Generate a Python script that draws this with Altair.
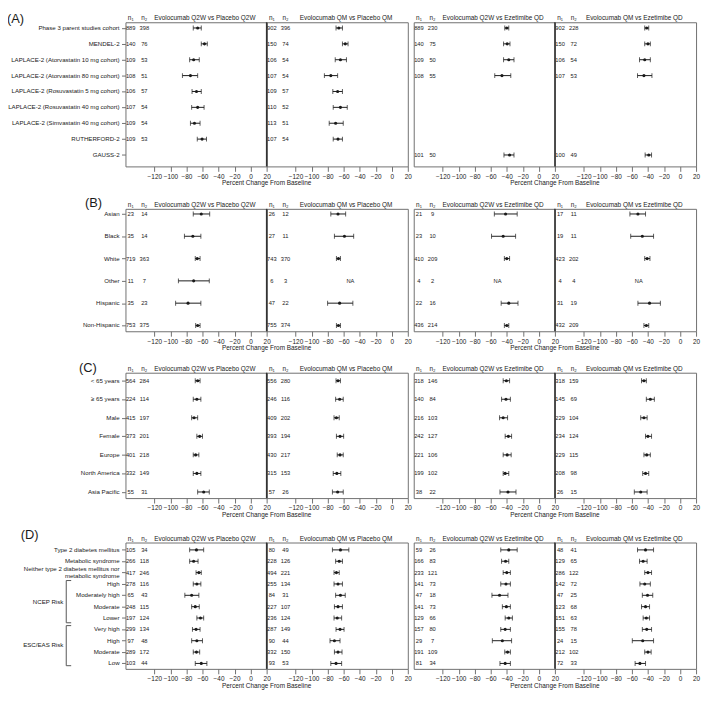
import altair as alt
import pandas as pd

# ------------------------------------------------------------------ data
HEADERS = ["Evolocumab Q2W vs Placebo Q2W", "Evolocumab QM vs Placebo QM",
           "Evolocumab Q2W vs Ezetimibe QD", "Evolocumab QM vs Ezetimibe QD"]
X_TICKS = [-120, -100, -80, -60, -40, -20, 0, 20]
AXIS_TITLE = "Percent Change From Baseline"

# rows: (n1, n2, mean % change, lower CI, upper CI); None = no data; est None = "NA"
A_LABELS = ["Phase 3 parent studies cohort", "MENDEL-2",
            "LAPLACE-2 (Atorvastatin 10 mg cohort)", "LAPLACE-2 (Atorvastatin 80 mg cohort)",
            "LAPLACE-2 (Rosuvastatin 5 mg cohort)", "LAPLACE-2 (Rosuvastatin 40 mg cohort)",
            "LAPLACE-2 (Simvastatin 40 mg cohort)", "RUTHERFORD-2", "GAUSS-2"]
A1 = [(889, 398, -66, -71.5, -61.5), (140, 76, -57.5, -61.5, -54), (109, 53, -71, -76, -64),
      (108, 51, -75, -85, -66), (106, 57, -67.5, -73, -61.5), (107, 54, -66, -73.5, -58),
      (109, 54, -70, -75, -63), (109, 53, -60.5, -66.5, -55), None]
A2 = [(902, 396, -66, -69.5, -61.5), (150, 74, -58, -61.5, -54.5), (106, 54, -64, -70.5, -56.5),
      (107, 54, -76, -84, -67.5), (109, 57, -67.5, -73.5, -61.5), (110, 52, -64, -73, -55.5),
      (113, 51, -70, -78, -60.5), (107, 54, -67, -73, -61.5), None]
A3 = [(889, 230, -40, -42.5, -37.5), (140, 75, -39.5, -44, -36), (109, 50, -37.5, -44, -31),
      (108, 55, -46, -55, -35), None, None, None, None, (101, 50, -36.5, -43.5, -31)]
A4 = [(902, 228, -41.5, -44, -39), (150, 72, -40, -44, -37), (106, 54, -44, -50.5, -37),
      (107, 53, -45, -53, -35), None, None, None, None, (100, 49, -39, -43.5, -35.5)]

B_LABELS = ["Asian", "Black", "White", "Other", "Hispanic", "Non-Hispanic"]
B1 = [(23, 14, -61.5, -71.5, -51), (35, 14, -72, -82.5, -62), (719, 363, -66.5, -69, -63),
      (11, 7, -71, -90, -51.5), (35, 23, -78, -93.5, -62), (753, 375, -66, -68.5, -63)]
B2 = [(26, 12, -67, -76, -57.5), (27, 11, -59, -71.5, -47.5), (743, 370, -66.5, -69, -64),
      (6, 3, None, None, None), (47, 22, -65, -80, -48.5), (755, 374, -66.5, -69, -64)]
B3 = [(21, 9, -41.5, -55.5, -27), (23, 10, -44.5, -59, -29), (410, 209, -40, -43, -36.5),
      (4, 2, None, None, None), (22, 16, -37.5, -47, -26), (436, 214, -40, -43, -37.5)]
B4 = [(17, 11, -52.5, -62.5, -43), (19, 11, -47, -61.5, -33), (423, 202, -41, -44, -37.5),
      (4, 4, None, None, None), (31, 19, -38, -52.5, -24.5), (432, 209, -42, -45, -39)]

C_LABELS = ["< 65 years", "\u2265 65 years", "Male", "Female", "Europe", "North America", "Asia Pacific"]
C1 = [(564, 284, -66, -69, -63), (224, 114, -67, -71.5, -62), (415, 197, -70.5, -73.5, -66),
      (373, 201, -63.5, -67, -60), (401, 218, -68.5, -71.5, -64.5), (332, 149, -67, -71.5, -62),
      (55, 31, -58.5, -66, -51.5)]
C2 = [(556, 280, -67, -69.5, -64), (246, 116, -65, -70, -60.5), (409, 202, -69, -72, -65.5),
      (393, 194, -64.5, -69, -60), (430, 217, -64.5, -68, -60.5), (315, 153, -68.5, -73, -63.5),
      (57, 26, -67.5, -74, -60.5)]
C3 = [(318, 146, -40.5, -44.5, -36.5), (140, 84, -41, -46.5, -35.5), (216, 103, -44.5, -49, -39),
      (242, 127, -38, -42, -34), (221, 106, -39.5, -44.5, -34.5), (199, 102, -42, -44.5, -37.5),
      (38, 22, -38.5, -48.5, -28.5)]
C4 = [(318, 159, -45, -48, -42), (145, 69, -37, -42, -32), (229, 104, -45, -49, -41),
      (234, 124, -40, -43, -35.5), (229, 115, -41.5, -45, -37), (208, 98, -43, -46.5, -39),
      (26, 15, -49, -57, -41)]

D_LABELS = ["Type 2 diabetes mellitus", "Metabolic syndrome",
            "Neither type 2 diabetes mellitus nor\nmetabolic syndrome",
            "High", "Moderately high", "Moderate", "Lower",
            "Very high", "High", "Moderate", "Low"]
D1 = [(105, 34, -67.5, -76, -58.5), (266, 118, -71, -76, -65.5), (417, 246, -64.5, -68, -61.5),
      (278, 116, -67, -71.5, -62), (65, 43, -73.5, -82, -64.5), (248, 115, -69, -73.5, -64),
      (197, 124, -62.5, -67, -58.5), (299, 134, -68, -72.5, -63), (97, 48, -67, -73.5, -60),
      (289, 172, -67.5, -71.5, -63.5), (103, 44, -61.5, -69, -54.5)]
D2 = [(80, 49, -64, -74, -53.5), (228, 126, -65.5, -70, -61.5), (494, 221, -69, -72, -65.5),
      (255, 134, -67, -72, -61.5), (84, 31, -64, -70, -58), (227, 107, -67, -71.5, -61.5),
      (236, 124, -68, -72, -62.5), (287, 149, -64.5, -69.5, -59.5), (90, 44, -71.5, -77, -64.5),
      (332, 150, -67, -71.5, -62), (93, 53, -69.5, -76, -62.5)]
D3 = [(59, 26, -37.5, -47.5, -27), (166, 83, -41.5, -46.5, -37.5), (233, 121, -40, -44.5, -35.5),
      (141, 73, -41, -47.5, -35.5), (47, 18, -49, -58.5, -38.5), (141, 73, -40.5, -45.5, -35.5),
      (129, 66, -37.5, -42, -33), (157, 80, -42, -47.5, -35.5), (29, 7, -45.5, -58, -34),
      (191, 109, -39, -42.5, -35.5), (81, 34, -42, -48.5, -35.5)]
D4 = [(48, 41, -43, -53, -33), (129, 65, -46, -50.5, -41), (286, 122, -40, -44, -35.5),
      (142, 72, -44, -50, -37), (47, 25, -40.5, -47, -34), (123, 68, -43, -48, -38),
      (151, 63, -42, -46, -38), (155, 78, -41.5, -47, -35.5), (24, 15, -46.5, -59.5, -33),
      (212, 102, -40, -44, -36), (72, 33, -50, -56, -43)]

D_GROUPS = ["NCEP Risk", "ESC/EAS Risk"]
D_GROUP_TOP = [2.7, 6.67]
D_GROUP_BOTTOM = [6.42, 10.2]
D_GROUP_MID = [4.55, 8.4]

# ------------------------------------------------------------------ style
FONT = "Liberation Sans"
INK = "#1a1a1a"
FRAME = "#707070"
BOX_W = 143
XDOM = [-156, 20]
N1_X, N2_X, HEAD_X, NA_X = -149.5, -132.5, -57, -51.5
FS = 6.5
LABEL_FS = 6.2
LINE_H = 6.6
LEFT_EXTENT = -126


def box(rows, labels, height, pads, header, first=False, letter=None,
        axis_title=False, divider=False, groups=False):
    n = len(labels)
    xs = alt.Scale(domain=XDOM, nice=False, zero=False)
    ys = alt.Scale(domain=[-pads[0], n - 1 + pads[1]], reverse=True, nice=False, zero=False)
    xax = alt.Axis(values=X_TICKS, tickSize=5, domain=False, grid=False, labelFlush=False,
                   labelOverlap=False, labelPadding=2, title=None)
    yax = (alt.Axis(values=list(range(n)), labels=False, tickSize=4, domain=False,
                    grid=False, title=None) if first else None)

    def X(f):
        return alt.X(f, type="quantitative", scale=xs, axis=xax)

    def Y(f):
        return alt.Y(f, type="quantitative", scale=ys, axis=yax)

    ci, txt = [], []
    for i, r in enumerate(rows):
        if r is None:
            continue
        n1, n2, est, lo, hi = r
        txt.append(dict(row=i, x=N1_X, t=str(n1)))
        txt.append(dict(row=i, x=N2_X, t=str(n2)))
        if est is None:
            txt.append(dict(row=i, x=NA_X, t="NA"))
        else:
            ci.append(dict(row=i, est=est, lo=lo, hi=hi))
    ci = pd.DataFrame(ci)
    txt = pd.DataFrame(txt)
    head = pd.DataFrame([dict(x=N1_X, t="n\u2081"), dict(x=N2_X, t="n\u2082"),
                         dict(x=HEAD_X, t=header)])
    one = pd.DataFrame(dict(t=[""]))

    layers = [
        alt.Chart(ci).mark_rule(color=INK, strokeWidth=1).encode(x=X("lo"), x2="hi", y=Y("row")),
        alt.Chart(ci).mark_tick(orient="vertical", size=5, thickness=1, color=INK)
        .encode(x=X("lo"), y=Y("row")),
        alt.Chart(ci).mark_tick(orient="vertical", size=5, thickness=1, color=INK)
        .encode(x=X("hi"), y=Y("row")),
        alt.Chart(ci).mark_circle(size=10, color=INK, opacity=1).encode(x=X("est"), y=Y("row")),
        alt.Chart(txt).mark_text(fontSize=5.8, baseline="middle", color=INK, font=FONT)
        .encode(x=X("x"), y=Y("row"), text="t:N"),
        alt.Chart(head).mark_text(fontSize=FS, baseline="alphabetic", color=INK, font=FONT)
        .encode(x=X("x"), y=alt.value(-2), text="t:N"),
    ]
    if divider:
        layers.append(alt.Chart(one).mark_rule(color="#333333", strokeWidth=1.5)
                      .encode(x=alt.value(0), y=alt.value(0), y2=alt.value(height)))
    if first:
        # invisible anchor so every panel reserves the same label area
        layers.append(alt.Chart(one).mark_rule(opacity=0)
                      .encode(x=alt.value(LEFT_EXTENT), y=alt.value(0), y2=alt.value(2)))
        # multi-line labels: centre the block of lines on the row
        px_per_row = height / (n - 1 + pads[0] + pads[1])
        lab = pd.DataFrame([dict(row=i - (l.count("\n") * LINE_H / 2) / px_per_row, label=l)
                            for i, l in enumerate(labels)])
        layers.append(alt.Chart(lab).mark_text(align="right", baseline="middle", fontSize=LABEL_FS,
                                               lineBreak="\n", lineHeight=LINE_H,
                                               color=INK, font=FONT)
                      .encode(x=alt.value(-6), y=Y("row"), text="label:N"))
    if letter is not None:
        lt, lx, ly = letter
        layers.append(alt.Chart(pd.DataFrame(dict(t=[lt]))).mark_text(
            align="left", baseline="alphabetic", fontSize=13, color=INK, font=FONT)
            .encode(x=alt.value(lx), y=alt.value(ly), text="t:N"))
    if axis_title:
        layers.append(alt.Chart(pd.DataFrame(dict(t=[AXIS_TITLE]))).mark_text(
            align="center", baseline="middle", fontSize=FS, color=INK, font=FONT)
            .encode(x=alt.value(BOX_W), y=alt.value(height + 17), text="t:N"))
    if groups:
        g = pd.DataFrame(dict(label=D_GROUPS, top=D_GROUP_TOP, bottom=D_GROUP_BOTTOM, mid=D_GROUP_MID))
        layers += [
            alt.Chart(g).mark_rule(color="#555555", strokeWidth=1)
            .encode(x=alt.value(-60), y=Y("top"), y2="bottom"),
            alt.Chart(g).mark_rule(color="#555555", strokeWidth=1)
            .encode(x=alt.value(-60), x2=alt.value(-55), y=Y("top")),
            alt.Chart(g).mark_rule(color="#555555", strokeWidth=1)
            .encode(x=alt.value(-60), x2=alt.value(-55), y=Y("bottom")),
            alt.Chart(g).mark_text(align="right", baseline="middle", fontSize=LABEL_FS,
                                   color=INK, font=FONT)
            .encode(x=alt.value(-63), y=Y("mid"), text="label:N"),
        ]
    return alt.layer(*layers).properties(width=BOX_W, height=height)


def panel(boxes, labels, height, pads, letter, groups=False):
    b1 = box(boxes[0], labels, height, pads, HEADERS[0], first=True, letter=letter,
             axis_title=True, groups=groups)
    b2 = box(boxes[1], labels, height, pads, HEADERS[1], divider=True)
    b3 = box(boxes[2], labels, height, pads, HEADERS[2], axis_title=True)
    b4 = box(boxes[3], labels, height, pads, HEADERS[3], divider=True)
    left = alt.hconcat(b1, b2, spacing=0, bounds="flush")
    right = alt.hconcat(b3, b4, spacing=0, bounds="flush")
    return alt.hconcat(left, right, spacing=0)


pA = panel([A1, A2, A3, A4], A_LABELS, 146, (0.36, 0.72), ("(A)", -120, 1))
pB = panel([B1, B2, B3, B4], B_LABELS, 124, (0.23, 0.26), ("(B)", -41, -2))
pC = panel([C1, C2, C3, C4], C_LABELS, 127, (0.43, 0.33), ("(C)", -47, -1))
pD = panel([D1, D2, D3, D4], D_LABELS, 128, (0.65, 0.48), ("(D)", -106, -4), groups=True)

chart = (
    alt.vconcat(pA, pB, pC, pD, spacing=9)
    .properties(padding={"left": -8, "top": 0, "right": 0, "bottom": 0}, background="white")
    .configure_view(stroke=FRAME, strokeWidth=1)
    .configure_axis(labelFont=FONT, labelFontSize=FS, labelColor=INK, tickColor=FRAME,
                    tickWidth=1)
)

chart.save("out.html", embed_options={"renderer": "svg", "actions": False})
